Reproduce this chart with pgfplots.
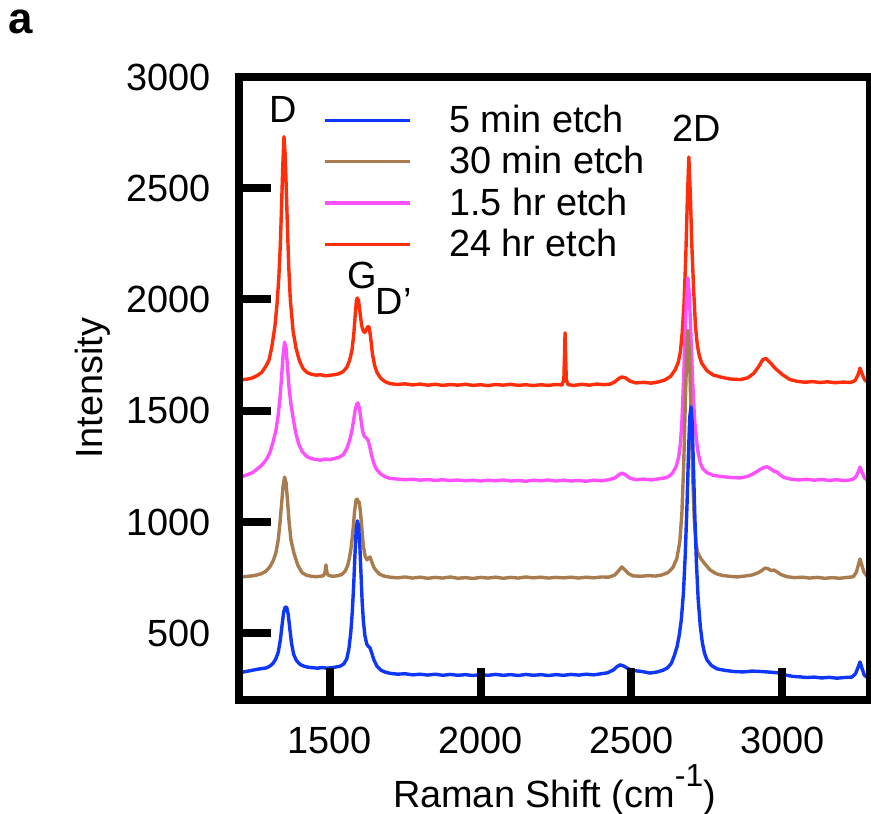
\documentclass[border=0pt]{standalone}
\usepackage{fontspec}
\setmainfont{Liberation Sans}
\usepackage{pgfplots}
\pgfplotsset{compat=1.18}
\definecolor{cblue}{RGB}{15,55,250}
\definecolor{cbrown}{RGB}{168,124,78}
\definecolor{cmag}{RGB}{255,80,255}
\definecolor{cred}{RGB}{255,45,10}
\newcommand{\lf}{\fontsize{19}{22}\selectfont}
\begin{document}
\begin{tikzpicture}
\useasboundingbox (-119.5bp,-57bp) rectangle (316bp,350bp);
\begin{axis}[at={(0,0)}, anchor=south west, scale only axis,
  width=315.5bp, height=311.5bp,
  xmin=1200, xmax=3290, ymin=200, ymax=3000,
  axis line style={line width=4bp, black},
  axis on top,
  xtick={1500,2000,2500,3000}, ytick={500,1000,1500,2000,2500,3000},
  tick align=inside, xtick pos=bottom, ytick pos=left,
  major tick length=16bp,
  tick style={line width=4bp, black},
  every tick label/.append style={font=\lf},
  /pgf/number format/assume math mode=true,
  /pgf/number format/set thousands separator={},
  yticklabel style={xshift=-10.5bp},
  xticklabel style={yshift=-10bp},
  xlabel={Raman Shift (cm\raisebox{0.55em}{\fontsize{16}{16}\selectfont -1})},
  xlabel style={at={(axis description cs:0.5,0)}, anchor=base, yshift=-53.5bp, font=\lf},
  ylabel={Intensity},
  every axis y label/.style={at={(axis description cs:0,0.5)}, anchor=base, rotate=90, yshift=68bp, font=\lf},
  legend style={draw=none, fill=none, at={(axis description cs:0.133,0.962)}, anchor=north west,
    font=\lf, row sep=1.5bp, inner sep=0pt},
  legend cell align=left,
  legend image code/.code={\draw[#1, line width=1.7bp] (0bp,0bp) -- (42.5bp,0bp); \path[draw=none] (0bp,0bp) -- (60bp,0bp);},
  every axis plot/.append style={line width=1.7bp, line join=round},
]
\addlegendimage{cblue}\addlegendentry{5 min etch}
\addlegendimage{cbrown}\addlegendentry{30 min etch}
\addlegendimage{cmag}\addlegendentry{1.5 hr etch}
\addlegendimage{cred}\addlegendentry{24 hr etch}

% 24 hr etch
\addplot[cred, forget plot] coordinates {
(1200,1636)(1215,1640)(1230,1643)(1245,1648)(1260,1658)(1275,1672)(1289,1700)(1300,1730)(1309,1790)(1319,1880)(1326,1980)(1332,2100)(1337,2250)(1341,2420)(1345,2600)(1349,2732)(1353,2650)(1357,2480)(1361,2300)(1365,2140)(1370,2000)(1379,1860)(1389,1780)(1400,1725)(1412,1690)(1425,1672)(1440,1664)(1455,1660)(1470,1662)(1485,1657)(1500,1659)(1515,1662)(1530,1666)(1545,1676)(1557,1695)(1566,1725)(1574,1770)(1580,1840)(1585,1930)(1589,1995)(1592,2007)(1596,1995)(1601,1940)(1606,1885)(1611,1860)(1616,1852)(1621,1862)(1626,1878)(1631,1876)(1636,1830)(1642,1755)(1649,1705)(1657,1672)(1670,1645)(1685,1630)(1700,1622)(1725,1618)(1750,1621)(1775,1616)(1800,1620)(1825,1615)(1850,1619)(1875,1614)(1900,1618)(1925,1615)(1950,1619)(1975,1614)(2000,1617)(2025,1613)(2050,1618)(2075,1615)(2100,1619)(2125,1614)(2150,1617)(2175,1613)(2200,1617)(2225,1614)(2250,1618)(2270,1616)(2276,1640)(2280,1850)(2284,1640)(2290,1617)(2310,1614)(2335,1619)(2360,1615)(2385,1620)(2410,1617)(2430,1620)(2445,1630)(2458,1645)(2468,1652)(2480,1648)(2495,1633)(2515,1625)(2540,1628)(2565,1624)(2590,1630)(2610,1638)(2630,1655)(2645,1685)(2655,1718)(2662,1765)(2668,1850)(2674,1980)(2680,2200)(2685,2450)(2690,2640)(2695,2470)(2700,2240)(2706,2040)(2712,1880)(2718,1795)(2725,1745)(2733,1713)(2750,1680)(2770,1661)(2800,1650)(2826,1643)(2860,1640)(2885,1648)(2905,1668)(2922,1700)(2935,1730)(2945,1735)(2955,1722)(2965,1708)(2975,1692)(2985,1680)(3000,1662)(3025,1640)(3050,1632)(3075,1628)(3100,1631)(3125,1627)(3150,1630)(3175,1626)(3200,1629)(3225,1627)(3240,1635)(3250,1660)(3257,1692)(3264,1665)(3272,1640)(3282,1628)(3290,1625)
};
% 1.5 hr etch
\addplot[cmag, forget plot] coordinates {
(1200,1200)(1215,1206)(1230,1214)(1245,1222)(1260,1238)(1275,1255)(1290,1280)(1302,1310)(1313,1360)(1322,1410)(1330,1480)(1336,1560)(1341,1650)(1346,1750)(1351,1808)(1356,1780)(1361,1690)(1366,1600)(1372,1530)(1379,1470)(1388,1400)(1398,1350)(1410,1315)(1425,1294)(1440,1285)(1455,1281)(1470,1278)(1485,1283)(1500,1280)(1515,1285)(1530,1290)(1545,1302)(1557,1330)(1566,1365)(1574,1410)(1580,1460)(1585,1505)(1590,1530)(1594,1535)(1599,1510)(1604,1460)(1609,1410)(1615,1385)(1621,1378)(1627,1370)(1633,1340)(1640,1295)(1648,1258)(1657,1234)(1670,1215)(1685,1203)(1700,1196)(1725,1193)(1750,1190)(1775,1192)(1800,1188)(1825,1191)(1850,1187)(1875,1190)(1900,1186)(1925,1189)(1950,1185)(1975,1188)(2000,1184)(2025,1188)(2050,1185)(2075,1189)(2100,1184)(2125,1187)(2150,1183)(2175,1188)(2200,1185)(2225,1189)(2250,1184)(2275,1188)(2300,1184)(2325,1187)(2350,1183)(2375,1188)(2400,1185)(2425,1190)(2445,1198)(2458,1212)(2468,1220)(2480,1212)(2495,1197)(2515,1190)(2540,1193)(2565,1189)(2590,1194)(2610,1198)(2625,1206)(2637,1222)(2648,1250)(2656,1290)(2662,1350)(2667,1450)(2672,1620)(2677,1820)(2682,2000)(2687,2097)(2692,2010)(2697,1830)(2703,1620)(2709,1460)(2715,1370)(2721,1310)(2728,1265)(2736,1240)(2750,1222)(2770,1210)(2800,1204)(2830,1200)(2860,1198)(2885,1205)(2905,1218)(2925,1235)(2940,1246)(2950,1248)(2960,1240)(2972,1228)(2982,1225)(2992,1212)(3005,1200)(3030,1192)(3055,1189)(3080,1192)(3105,1188)(3130,1191)(3155,1187)(3180,1190)(3205,1186)(3230,1190)(3243,1202)(3251,1225)(3257,1247)(3263,1225)(3272,1198)(3282,1185)(3290,1180)
};
% 30 min etch
\addplot[cbrown, forget plot] coordinates {
(1200,752)(1215,754)(1230,756)(1245,758)(1260,762)(1275,768)(1290,780)(1302,798)(1313,825)(1322,860)(1330,920)(1336,1000)(1341,1080)(1346,1160)(1351,1202)(1356,1175)(1361,1090)(1366,1000)(1372,920)(1382,860)(1395,805)(1409,772)(1425,760)(1440,756)(1455,754)(1470,756)(1480,759)(1485,775)(1488,807)(1491,775)(1496,760)(1510,756)(1525,758)(1540,764)(1552,780)(1560,805)(1566,840)(1572,890)(1578,970)(1583,1050)(1588,1100)(1592,1103)(1595,1088)(1598,1090)(1602,1050)(1607,970)(1612,890)(1618,845)(1624,830)(1630,838)(1634,843)(1640,820)(1647,795)(1654,782)(1665,766)(1680,757)(1700,752)(1725,749)(1750,753)(1775,748)(1800,752)(1825,747)(1850,751)(1875,748)(1900,753)(1925,747)(1950,750)(1975,746)(2000,751)(2025,748)(2050,752)(2075,747)(2100,751)(2125,748)(2150,753)(2175,749)(2200,752)(2225,748)(2250,751)(2275,749)(2300,752)(2325,748)(2350,752)(2375,749)(2400,753)(2425,752)(2445,762)(2458,782)(2468,798)(2478,785)(2490,768)(2505,758)(2530,756)(2555,759)(2580,757)(2600,762)(2620,772)(2637,795)(2650,835)(2660,910)(2667,1040)(2673,1260)(2678,1520)(2683,1760)(2687,1860)(2692,1750)(2697,1500)(2702,1230)(2708,1010)(2714,900)(2720,860)(2730,835)(2743,812)(2760,785)(2780,768)(2800,760)(2825,756)(2850,753)(2875,757)(2900,762)(2920,772)(2935,785)(2942,793)(2952,790)(2962,782)(2972,784)(2982,776)(2995,764)(3015,754)(3040,750)(3065,752)(3090,748)(3115,751)(3140,747)(3165,750)(3190,747)(3215,751)(3235,754)(3245,775)(3252,810)(3257,834)(3262,810)(3270,775)(3280,757)(3290,753)
};
% 5 min etch
\addplot[cblue, forget plot] coordinates {
(1200,321)(1215,326)(1230,330)(1245,334)(1260,338)(1275,341)(1290,344)(1302,352)(1313,365)(1322,385)(1330,415)(1337,470)(1343,540)(1348,595)(1353,618)(1358,616)(1363,585)(1368,525)(1374,455)(1381,405)(1390,378)(1402,360)(1415,352)(1430,347)(1445,345)(1460,343)(1475,346)(1490,343)(1505,345)(1520,348)(1535,352)(1547,362)(1557,385)(1564,430)(1570,500)(1575,590)(1580,720)(1584,850)(1588,960)(1592,1005)(1596,985)(1600,900)(1604,770)(1608,640)(1612,555)(1617,490)(1623,452)(1629,440)(1634,435)(1640,410)(1647,380)(1657,352)(1670,334)(1685,325)(1700,320)(1725,316)(1750,318)(1775,313)(1800,316)(1825,312)(1850,316)(1875,311)(1900,315)(1925,311)(1950,314)(1975,310)(2000,314)(2025,311)(2050,315)(2075,311)(2100,314)(2125,310)(2150,315)(2175,311)(2200,314)(2225,310)(2250,314)(2275,311)(2300,315)(2325,312)(2350,316)(2375,313)(2400,318)(2420,322)(2440,335)(2452,350)(2462,358)(2475,352)(2490,340)(2510,332)(2535,328)(2561,321)(2585,326)(2605,334)(2620,345)(2632,365)(2642,400)(2651,440)(2658,490)(2665,560)(2672,680)(2678,850)(2684,1080)(2689,1320)(2693,1470)(2697,1517)(2701,1450)(2705,1260)(2710,1020)(2715,820)(2721,650)(2728,530)(2735,455)(2742,410)(2750,380)(2765,355)(2783,340)(2810,333)(2840,328)(2870,326)(2900,330)(2930,328)(2960,325)(2985,322)(3010,312)(3035,306)(3058,304)(3080,301)(3105,303)(3130,299)(3155,302)(3180,298)(3205,301)(3230,303)(3242,318)(3250,345)(3257,371)(3263,345)(3271,312)(3281,301)(3290,299)
};
\node[font=\lf, inner sep=0pt] at (axis cs:1346,2852) {D};
\node[font=\lf, inner sep=0pt] at (axis cs:1607,2110) {G};
\node[font=\lf, inner sep=0pt] at (axis cs:1712,1989) {D’};
\node[font=\lf, inner sep=0pt] at (axis cs:2717,2771) {2D};
\end{axis}
\node[font=\bfseries\fontsize{22}{22}\selectfont, inner sep=0pt] at (-109bp,339bp) {a};
\end{tikzpicture}
\end{document}
